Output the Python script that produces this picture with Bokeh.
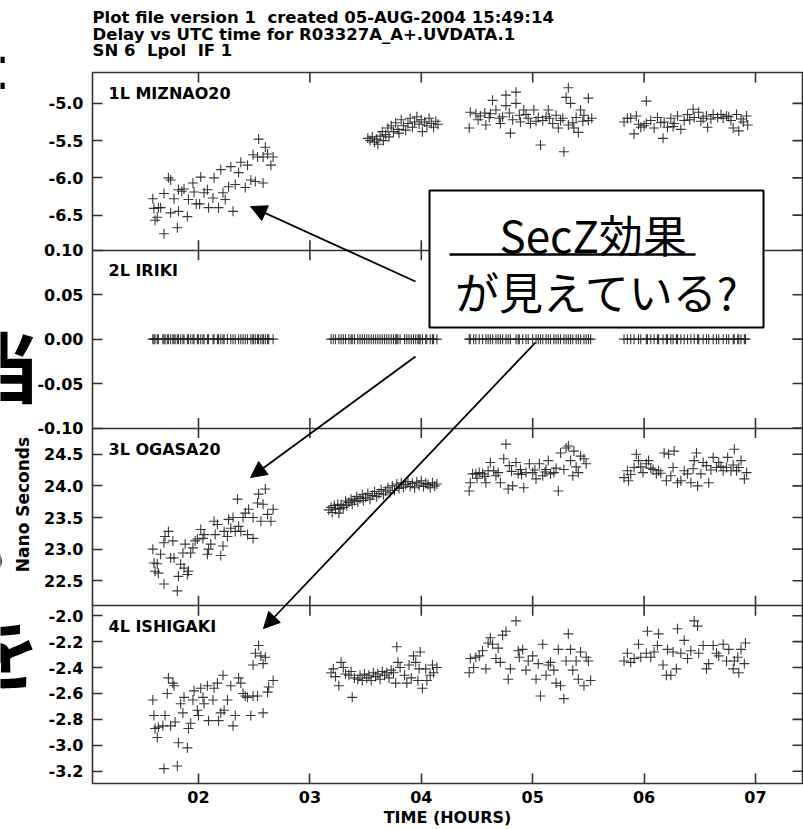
import numpy as np
from bokeh.plotting import figure
from bokeh.layouts import row, column
from bokeh.models import Range1d, FixedTicker, Label, Arrow, NormalHead, BoxAnnotation, Title
from bokeh.embed import file_html
from bokeh.resources import INLINE

# ---------------------------------------------------------------- data
HOUR_TICKS = [2, 3, 4, 5, 6, 7]
HOUR_LABELS = ["02", "03", "04", "05", "06", "07"]

MIZNAO20_RANGE = (-6.972, -4.586)
MIZNAO20_TICKS = [-5.0, -5.5, -6.0, -6.5]
MIZNAO20_TICK_LABELS = ["-5.0", "-5.5", "-6.0", "-6.5"]

IRIKI_RANGE = (-0.10, 0.10)
IRIKI_TICKS = [0.10, 0.05, 0.0, -0.05, -0.10]
IRIKI_TICK_LABELS = ["0.10", "0.05", "0.00", "-0.05", "-0.10"]

OGASA20_RANGE = (22.105, 24.915)
OGASA20_TICKS = [24.5, 24.0, 23.5, 23.0, 22.5]
OGASA20_TICK_LABELS = ["24.5", "24.0", "23.5", "23.0", "22.5"]

ISHIGAKI_RANGE = (-3.295, -1.923)
ISHIGAKI_TICKS = [-2.0, -2.2, -2.4, -2.6, -2.8, -3.0, -3.2]
ISHIGAKI_TICK_LABELS = ["-2.0", "-2.2", "-2.4", "-2.6", "-2.8", "-3.0", "-3.2"]

# (UTC hours, delay ns)
MIZNAO20_A = [(1.59, -6.28), (1.60, -6.41), (1.61, -6.57), (1.63, -6.53), (1.64, -6.40), (1.66, -6.40),
              (1.69, -6.75), (1.69, -6.21), (1.73, -6.00), (1.75, -6.03), (1.75, -6.47), (1.78, -6.28),
              (1.81, -6.67), (1.82, -6.45), (1.82, -6.16), (1.85, -6.18), (1.87, -6.15), (1.90, -6.52),
              (1.91, -6.29), (1.95, -6.07), (1.96, -6.19), (1.98, -6.35), (2.01, -6.35), (2.02, -5.99),
              (2.05, -6.20), (2.08, -6.16), (2.09, -6.40), (2.13, -6.27), (2.14, -6.00), (2.18, -6.40),
              (2.20, -5.89), (2.22, -6.20), (2.24, -6.29), (2.27, -6.12), (2.29, -5.85), (2.31, -6.45),
              (2.33, -6.09), (2.36, -5.93), (2.38, -5.79), (2.42, -6.13), (2.44, -5.83), (2.47, -6.03),
              (2.49, -5.69), (2.51, -6.05), (2.53, -5.72), (2.54, -5.48), (2.58, -6.07), (2.58, -5.72),
              (2.60, -5.59), (2.62, -5.68), (2.65, -5.83), (2.67, -5.72)]
MIZNAO20_B = [(3.52, -5.47), (3.54, -5.50), (3.56, -5.45), (3.58, -5.52), (3.60, -5.48), (3.61, -5.55),
              (3.63, -5.44), (3.65, -5.38), (3.66, -5.50), (3.68, -5.42), (3.70, -5.33), (3.71, -5.45),
              (3.73, -5.30), (3.75, -5.38), (3.77, -5.26), (3.79, -5.35), (3.80, -5.40), (3.82, -5.22),
              (3.84, -5.30), (3.86, -5.36), (3.88, -5.27), (3.90, -5.20), (3.92, -5.32), (3.94, -5.25),
              (3.96, -5.18), (3.98, -5.28), (4.00, -5.22), (4.01, -5.38), (4.03, -5.25), (4.05, -5.30),
              (4.07, -5.20), (4.09, -5.27), (4.11, -5.32), (4.13, -5.24), (4.15, -5.28)]
MIZNAO20_C = [(4.43, -5.33), (4.44, -5.12), (4.49, -5.14), (4.51, -5.22), (4.53, -5.17), (4.57, -5.13),
              (4.58, -5.29), (4.61, -5.19), (4.62, -5.14), (4.64, -4.96), (4.67, -5.09), (4.70, -5.20),
              (4.71, -5.27), (4.73, -5.18), (4.76, -4.89), (4.76, -5.03), (4.79, -5.13), (4.80, -5.40),
              (4.82, -5.22), (4.85, -4.85), (4.85, -5.00), (4.88, -5.16), (4.89, -5.25), (4.92, -5.09),
              (4.94, -5.15), (4.96, -5.20), (4.98, -5.27), (5.01, -5.09), (5.03, -5.24), (5.05, -5.19),
              (5.07, -5.56), (5.09, -5.23), (5.12, -5.18), (5.14, -5.09), (5.15, -5.20), (5.18, -5.27),
              (5.21, -5.16), (5.23, -5.33), (5.25, -5.23), (5.27, -5.20), (5.28, -5.65), (5.30, -4.92),
              (5.32, -5.29), (5.32, -4.79), (5.34, -5.00), (5.36, -5.26), (5.37, -5.33), (5.39, -5.19),
              (5.41, -5.39), (5.43, -5.09), (5.45, -5.24), (5.46, -5.16), (5.50, -5.23), (5.50, -4.93),
              (5.53, -5.20)]
MIZNAO20_D = [(5.82, -5.25), (5.85, -5.20), (5.88, -5.20), (5.91, -5.41), (5.93, -5.17), (5.95, -5.28),
              (5.97, -5.32), (6.00, -5.30), (6.02, -4.97), (6.02, -5.27), (6.06, -5.23), (6.09, -5.33),
              (6.12, -5.19), (6.15, -5.26), (6.17, -5.47), (6.18, -5.25), (6.21, -5.32), (6.24, -5.20),
              (6.26, -5.31), (6.27, -5.27), (6.30, -5.17), (6.33, -5.35), (6.36, -5.23), (6.39, -5.15),
              (6.41, -5.22), (6.44, -5.08), (6.45, -5.19), (6.49, -5.12), (6.51, -5.24), (6.53, -5.20),
              (6.56, -5.17), (6.57, -5.32), (6.60, -5.21), (6.62, -5.15), (6.66, -5.19), (6.69, -5.15),
              (6.71, -5.20), (6.74, -5.17), (6.76, -5.18), (6.78, -5.23), (6.80, -5.33), (6.83, -5.15),
              (6.85, -5.37), (6.87, -5.21), (6.89, -5.25), (6.92, -5.17), (6.93, -5.29)]

OGASA20_A = [(1.59, 23.00), (1.60, 22.78), (1.61, 22.65), (1.63, 22.77), (1.64, 22.62), (1.66, 22.92),
             (1.69, 23.10), (1.69, 22.45), (1.70, 23.20), (1.73, 23.28), (1.75, 22.86), (1.77, 23.13),
             (1.78, 22.86), (1.81, 22.34), (1.82, 22.57), (1.84, 22.76), (1.86, 22.94), (1.87, 22.70),
             (1.88, 23.08), (1.90, 22.60), (1.91, 22.65), (1.93, 22.94), (1.95, 23.02), (1.97, 23.13),
             (1.99, 23.16), (2.02, 23.31), (2.04, 23.17), (2.05, 23.23), (2.08, 22.92), (2.09, 23.00),
             (2.11, 23.08), (2.14, 23.44), (2.15, 23.23), (2.17, 23.39), (2.20, 22.90), (2.22, 23.05),
             (2.23, 23.28), (2.26, 23.20), (2.27, 23.47), (2.29, 23.33), (2.31, 23.50), (2.33, 23.28),
             (2.35, 23.79), (2.36, 23.36), (2.38, 23.28), (2.40, 23.50), (2.42, 23.57), (2.44, 23.23),
             (2.45, 23.63), (2.49, 23.50), (2.49, 23.17), (2.53, 23.73), (2.54, 23.87), (2.56, 23.44),
             (2.58, 23.71), (2.60, 23.95), (2.62, 23.55), (2.65, 23.44), (2.67, 23.63)]
OGASA20_B = [(3.17, 23.62), (3.19, 23.66), (3.20, 23.58), (3.22, 23.69), (3.23, 23.63), (3.25, 23.71),
             (3.26, 23.57), (3.27, 23.64), (3.28, 23.70), (3.30, 23.66), (3.32, 23.76), (3.33, 23.69),
             (3.35, 23.74), (3.37, 23.79), (3.38, 23.71), (3.40, 23.77), (3.42, 23.83), (3.43, 23.75),
             (3.45, 23.80), (3.47, 23.86), (3.48, 23.77), (3.50, 23.82), (3.52, 23.88), (3.54, 23.79),
             (3.56, 23.85), (3.58, 23.91), (3.60, 23.83), (3.62, 23.88), (3.64, 23.94), (3.66, 23.86),
             (3.68, 23.92), (3.70, 23.97), (3.72, 23.89), (3.74, 24.00), (3.76, 23.93), (3.78, 24.03),
             (3.80, 23.96), (3.82, 24.05), (3.84, 23.98), (3.86, 24.02), (3.88, 24.07), (3.90, 23.99),
             (3.92, 24.04), (3.94, 23.97), (3.96, 24.06), (3.98, 24.01), (4.00, 24.08), (4.02, 23.99),
             (4.04, 24.04), (4.06, 24.02), (4.08, 23.97), (4.10, 24.05), (4.12, 24.00), (4.14, 24.03)]
OGASA20_C = [(4.43, 23.92), (4.44, 24.05), (4.46, 24.19), (4.49, 24.19), (4.50, 24.12), (4.52, 24.21),
             (4.55, 24.19), (4.57, 24.15), (4.58, 24.05), (4.60, 24.24), (4.62, 24.37), (4.65, 24.24),
             (4.67, 24.16), (4.69, 24.21), (4.71, 24.05), (4.74, 24.43), (4.76, 24.66), (4.78, 23.95),
             (4.79, 24.32), (4.81, 24.23), (4.82, 24.00), (4.85, 24.37), (4.87, 24.19), (4.89, 24.26),
             (4.90, 24.18), (4.92, 23.97), (4.94, 24.21), (4.97, 24.35), (5.00, 24.21), (5.02, 24.25),
             (5.03, 24.11), (5.06, 24.35), (5.09, 24.16), (5.11, 24.22), (5.12, 24.26), (5.14, 24.40),
             (5.16, 24.19), (5.19, 24.21), (5.21, 24.28), (5.23, 23.92), (5.25, 24.52), (5.28, 24.26),
             (5.30, 24.60), (5.32, 24.63), (5.34, 24.40), (5.36, 24.16), (5.37, 24.55), (5.39, 24.30),
             (5.41, 24.21), (5.43, 24.47), (5.46, 24.43), (5.48, 24.35)]
OGASA20_D = [(5.82, 24.13), (5.85, 24.24), (5.86, 24.08), (5.88, 24.18), (5.91, 24.29), (5.93, 24.50),
             (5.95, 24.40), (5.97, 24.30), (5.99, 24.21), (6.02, 24.35), (6.04, 24.40), (6.06, 24.28),
             (6.08, 24.26), (6.11, 24.19), (6.13, 24.24), (6.15, 24.20), (6.18, 24.52), (6.20, 24.08),
             (6.22, 24.50), (6.24, 24.16), (6.26, 24.29), (6.27, 24.55), (6.30, 24.05), (6.33, 24.08),
             (6.36, 24.24), (6.39, 24.19), (6.42, 24.05), (6.44, 24.27), (6.45, 24.40), (6.47, 24.52),
             (6.48, 24.00), (6.51, 24.19), (6.53, 24.37), (6.56, 24.32), (6.58, 24.05), (6.60, 24.25),
             (6.62, 24.45), (6.65, 24.29), (6.67, 24.37), (6.69, 24.31), (6.71, 24.24), (6.74, 24.29),
             (6.75, 24.45), (6.78, 24.24), (6.80, 24.33), (6.81, 24.58), (6.83, 24.24), (6.85, 24.29),
             (6.87, 24.40), (6.90, 24.11), (6.92, 24.21)]

ISHIGAKI_A = [(1.59, -2.65), (1.60, -2.77), (1.61, -2.87), (1.63, -2.94), (1.64, -2.86), (1.68, -2.85),
              (1.69, -3.18), (1.70, -2.77), (1.72, -2.60), (1.73, -2.48), (1.75, -2.85), (1.77, -2.52),
              (1.78, -2.54), (1.79, -2.82), (1.81, -3.16), (1.82, -2.98), (1.84, -2.68), (1.86, -2.75),
              (1.87, -2.63), (1.90, -3.02), (1.91, -2.87), (1.93, -2.83), (1.95, -2.65), (1.96, -2.58),
              (1.99, -2.73), (2.00, -2.77), (2.02, -2.56), (2.04, -2.63), (2.05, -2.68), (2.08, -2.54),
              (2.09, -2.81), (2.13, -2.65), (2.14, -2.56), (2.17, -2.52), (2.18, -2.81), (2.20, -2.75),
              (2.22, -2.46), (2.23, -2.73), (2.26, -2.65), (2.29, -2.54), (2.31, -2.85), (2.33, -2.77),
              (2.36, -2.48), (2.38, -2.52), (2.40, -2.60), (2.42, -2.62), (2.44, -2.63), (2.47, -2.77),
              (2.49, -2.38), (2.49, -2.62), (2.51, -2.29), (2.53, -2.62), (2.54, -2.23), (2.56, -2.31),
              (2.58, -2.75), (2.58, -2.37), (2.60, -2.32), (2.62, -2.59), (2.63, -2.55), (2.67, -2.50)]
ISHIGAKI_B = [(3.19, -2.44), (3.21, -2.41), (3.23, -2.47), (3.26, -2.54), (3.28, -2.36), (3.30, -2.40),
              (3.32, -2.45), (3.35, -2.46), (3.37, -2.43), (3.38, -2.63), (3.40, -2.48), (3.43, -2.49),
              (3.45, -2.46), (3.47, -2.50), (3.49, -2.45), (3.51, -2.48), (3.53, -2.46), (3.55, -2.50),
              (3.57, -2.44), (3.59, -2.47), (3.61, -2.45), (3.63, -2.49), (3.65, -2.43), (3.67, -2.46),
              (3.69, -2.44), (3.71, -2.48), (3.73, -2.42), (3.75, -2.44), (3.77, -2.52), (3.78, -2.24),
              (3.79, -2.36), (3.81, -2.40), (3.85, -2.46), (3.87, -2.52), (3.89, -2.38), (3.91, -2.48),
              (3.93, -2.31), (3.95, -2.36), (3.97, -2.50), (3.98, -2.41), (3.99, -2.28), (4.01, -2.56),
              (4.04, -2.41), (4.05, -2.50), (4.08, -2.46), (4.10, -2.38), (4.11, -2.44), (4.14, -2.40)]
ISHIGAKI_C = [(4.43, -2.44), (4.44, -2.33), (4.47, -2.40), (4.49, -2.32), (4.52, -2.31), (4.55, -2.27),
              (4.58, -2.41), (4.60, -2.21), (4.62, -2.17), (4.64, -2.22), (4.67, -2.33), (4.69, -2.25),
              (4.71, -2.36), (4.73, -2.15), (4.76, -2.12), (4.78, -2.49), (4.80, -2.41), (4.85, -2.04),
              (4.87, -2.27), (4.88, -2.32), (4.91, -2.26), (4.94, -2.42), (4.96, -2.35), (5.00, -2.31),
              (5.03, -2.49), (5.05, -2.37), (5.07, -2.62), (5.09, -2.22), (5.12, -2.46), (5.14, -2.38),
              (5.16, -2.36), (5.19, -2.42), (5.21, -2.52), (5.23, -2.26), (5.25, -2.54), (5.28, -2.64),
              (5.30, -2.35), (5.32, -2.14), (5.34, -2.26), (5.36, -2.42), (5.39, -2.35), (5.41, -2.49),
              (5.43, -2.28), (5.46, -2.54), (5.48, -2.32), (5.50, -2.35), (5.52, -2.50)]
ISHIGAKI_D = [(5.82, -2.35), (5.85, -2.29), (5.88, -2.36), (5.91, -2.33), (5.95, -2.22), (5.97, -2.32),
              (6.02, -2.29), (6.03, -2.12), (6.06, -2.32), (6.09, -2.28), (6.12, -2.23), (6.13, -2.14),
              (6.17, -2.38), (6.20, -2.46), (6.21, -2.26), (6.24, -2.46), (6.26, -2.28), (6.29, -2.41),
              (6.30, -2.10), (6.33, -2.29), (6.36, -2.19), (6.39, -2.33), (6.42, -2.27), (6.45, -2.04),
              (6.48, -2.08), (6.49, -2.29), (6.53, -2.23), (6.56, -2.41), (6.58, -2.37), (6.62, -2.23),
              (6.65, -2.29), (6.67, -2.31), (6.71, -2.22), (6.74, -2.35), (6.76, -2.26), (6.80, -2.41),
              (6.81, -2.35), (6.84, -2.32), (6.85, -2.44), (6.87, -2.26), (6.90, -2.37), (6.91, -2.21)]

# IRIKI is the reference antenna: delay 0.00 at every solution time
IRIKI_TIMES = [t for t, _ in ISHIGAKI_A + ISHIGAKI_B + ISHIGAKI_C + ISHIGAKI_D]
IRIKI_DELAY = [0.0] * len(IRIKI_TIMES)

NB2 = "\u00a0\u00a0"  # double space kept in SVG text
TITLE_LINES = ["Plot file version 1" + NB2 + "created 05-AUG-2004 15:49:14",
               "Delay vs UTC time for R03327A_A+.UVDATA.1",
               "SN 6" + NB2 + "Lpol" + NB2 + "IF 1"]

# ---------------------------------------------------------------- layout
W, H = 803, 829
LEFT_W = 33          # strip at the left edge (slide text, axis name)
TOP_H = 71           # strip at the top (plot titles)
FL, FR, FT, FB = 92, 802, 72, 783   # frame, page pixels
T0, T1 = 1.0485, 7.422
NB = 4

INK = "#222222"
FRAME = "#333333"
FONT = "DejaVu Sans"
JFONT = "Noto Sans CJK JP"


def dx(px):
    return T0 + (px - FL) * (T1 - T0) / (FR - FL)


def dy(py):
    return (FB - py) * NB / (FB - FT)


def bare(f):
    f.outline_line_color = None
    f.grid.visible = False
    return f


# ---- left strip (page pixel coordinates)
left = bare(figure(width=LEFT_W, height=H, output_backend="svg", toolbar_location=None, title=None,
                   x_range=Range1d(0, LEFT_W), y_range=Range1d(H, 0),
                   x_axis_location=None, y_axis_location=None, min_border=0,
                   background_fill_color="white", border_fill_color="white"))
left.add_layout(Label(x=22, y=504, text="Nano Seconds", angle=90, angle_units="deg",
                      text_font=FONT, text_font_style="bold", text_font_size="17px",
                      text_color="black", text_baseline="middle", text_align="center"))
for ch, px, py, size, align in [("書", 8, 75, "76px", "right"), ("当", 2, 363, "76px", "center"),
                                ("。", -27, 531, "80px", "left"), ("を", 0, 647, "80px", "center")]:
    left.add_layout(Label(x=px, y=py, text=ch, text_font=JFONT, text_font_style="bold",
                          text_font_size=size, text_color="black", text_baseline="middle",
                          text_align=align))

# ---- top strip (frame aligned with the main frame)
top = bare(figure(width=W - LEFT_W, height=TOP_H, output_backend="svg", toolbar_location=None,
                  title=None, x_range=Range1d(T0, T1), y_range=Range1d(TOP_H, 0),
                  x_axis_location=None, y_axis_location=None,
                  min_border_left=FL - LEFT_W, min_border_right=W - FR,
                  min_border_top=0, min_border_bottom=0,
                  background_fill_color="white", border_fill_color="white"))
for i, line in enumerate(TITLE_LINES):
    top.add_layout(Label(x=dx(FL), y=17 + 16.5 * i, text=line, text_font=FONT,
                         text_font_style="bold", text_font_size="16.5px", text_color="black",
                         text_baseline="middle", text_align="left"))

# ---- main plot
p = figure(width=W - LEFT_W, height=H - TOP_H, output_backend="svg", toolbar_location=None,
           title=None, x_range=Range1d(T0, T1), y_range=Range1d(0, NB),
           min_border_left=FL - LEFT_W, min_border_right=W - FR,
           min_border_top=FT - TOP_H, min_border_bottom=H - FB,
           background_fill_color="white", border_fill_color="white")
p.outline_line_color = FRAME
p.outline_line_width = 1.6
p.xgrid.visible = False
p.ygrid.ticker = FixedTicker(ticks=[1, 2, 3])
p.ygrid.grid_line_color = FRAME
p.ygrid.grid_line_width = 1.6

panels = [
    ("1L MIZNAO20", [MIZNAO20_A, MIZNAO20_B, MIZNAO20_C, MIZNAO20_D], MIZNAO20_RANGE,
     MIZNAO20_TICKS, MIZNAO20_TICK_LABELS, 3, 93),
    ("2L IRIKI", [list(zip(IRIKI_TIMES, IRIKI_DELAY))], IRIKI_RANGE,
     IRIKI_TICKS, IRIKI_TICK_LABELS, 2, 270),
    ("3L OGASA20", [OGASA20_A, OGASA20_B, OGASA20_C, OGASA20_D], OGASA20_RANGE,
     OGASA20_TICKS, OGASA20_TICK_LABELS, 1, 449),
    ("4L ISHIGAKI", [ISHIGAKI_A, ISHIGAKI_B, ISHIGAKI_C, ISHIGAKI_D], ISHIGAKI_RANGE,
     ISHIGAKI_TICKS, ISHIGAKI_TICK_LABELS, 0, 626),
]

extra = {}
tick_pos, tick_lab = [], {}
for name, groups, (lo, hi), ticks, labels, base, _ in panels:
    span = hi - lo
    extra[name] = Range1d(lo - base * span, hi + (NB - 1 - base) * span)
    for v, lab in zip(ticks, labels):
        pos = base + (v - lo) / span
        tick_pos.append(pos)
        tick_lab[pos] = lab
p.extra_y_ranges = extra

for name, groups, rng, ticks, labels, base, label_py in panels:
    pts = [pt for g in groups for pt in g]
    p.scatter(x=[t for t, _ in pts], y=[v for _, v in pts], y_range_name=name,
              marker="cross", size=10, line_color=INK, line_width=1.1, line_alpha=0.9)
    p.add_layout(Label(x=dx(108), y=dy(label_py), text=name, text_font=FONT,
                       text_font_style="bold", text_font_size="16px", text_color="black",
                       text_baseline="middle", text_align="left"))

yax = p.yaxis[0]
yax.ticker = FixedTicker(ticks=tick_pos)
yax.major_label_overrides = tick_lab
yax.major_tick_in = 10
yax.major_tick_out = 0
yax.minor_tick_line_color = None
yax.axis_line_color = None
yax.major_tick_line_color = FRAME
yax.major_tick_line_width = 1.6
yax.major_label_standoff = 9
yax.major_label_text_font = FONT
yax.major_label_text_font_style = "bold"
yax.major_label_text_font_size = "16px"
yax.major_label_text_color = "black"

xax = p.xaxis[0]
xax.ticker = FixedTicker(ticks=HOUR_TICKS)
xax.major_label_overrides = dict(zip(HOUR_TICKS, HOUR_LABELS))
xax.major_tick_in = 10
xax.major_tick_out = 0
xax.minor_tick_line_color = None
xax.axis_line_color = None
xax.major_tick_line_color = FRAME
xax.major_tick_line_width = 1.6
xax.major_label_standoff = 7
xax.major_label_text_font = FONT
xax.major_label_text_font_style = "bold"
xax.major_label_text_font_size = "16px"
xax.major_label_text_color = "black"

p.add_layout(Title(text="TIME (HOURS)", align="center", offset=10, standoff=0,
                   text_font=FONT, text_font_style="bold", text_font_size="16px",
                   text_color="black"), "below")

# hour ticks on the top edge and across every panel boundary (clipped at the frame)
bx, by = [], []
for b in [1, 2, 3, 4]:
    for h in HOUR_TICKS:
        bx.append(h)
        by.append(b)
p.scatter(x=bx, y=by, marker="dash", angle=np.pi / 2, size=20,
          line_color=FRAME, line_width=1.6)
# value ticks on the right edge
p.scatter(x=[T1] * len(tick_pos), y=tick_pos, marker="dash", size=20,
          line_color=FRAME, line_width=1.6)

# callout
for x0, y0, x1, y1 in [(415, 281, 250, 206), (415, 356, 250, 477), (535, 342, 263, 628)]:
    p.add_layout(Arrow(end=NormalHead(size=16, fill_color="black", line_color="black"),
                       x_start=dx(x0), y_start=dy(y0), x_end=dx(x1), y_end=dy(y1),
                       line_color="black", line_width=1.8))
p.add_layout(BoxAnnotation(left=dx(429), right=dx(763), top=dy(190), bottom=dy(327),
                           fill_color="white", fill_alpha=1.0, line_color="black",
                           line_alpha=1.0, line_width=2))
p.add_layout(Label(x=dx(499), y=dy(233), text="SecZ効果", text_font=JFONT,
                   text_font_size="44px", text_color="black", text_baseline="middle",
                   text_align="left"))
p.add_layout(Arrow(start=None, end=None, x_start=dx(449), y_start=dy(254), x_end=dx(695),
                   y_end=dy(254), line_color="black", line_width=2.5))
p.add_layout(Label(x=dx(597), y=dy(290), text="が見えている?", text_font=JFONT,
                   text_font_size="44px", text_color="black", text_baseline="middle",
                   text_align="center"))

layout = row(left, column(top, p))
open("out.html", "w").write(file_html(layout, INLINE))
